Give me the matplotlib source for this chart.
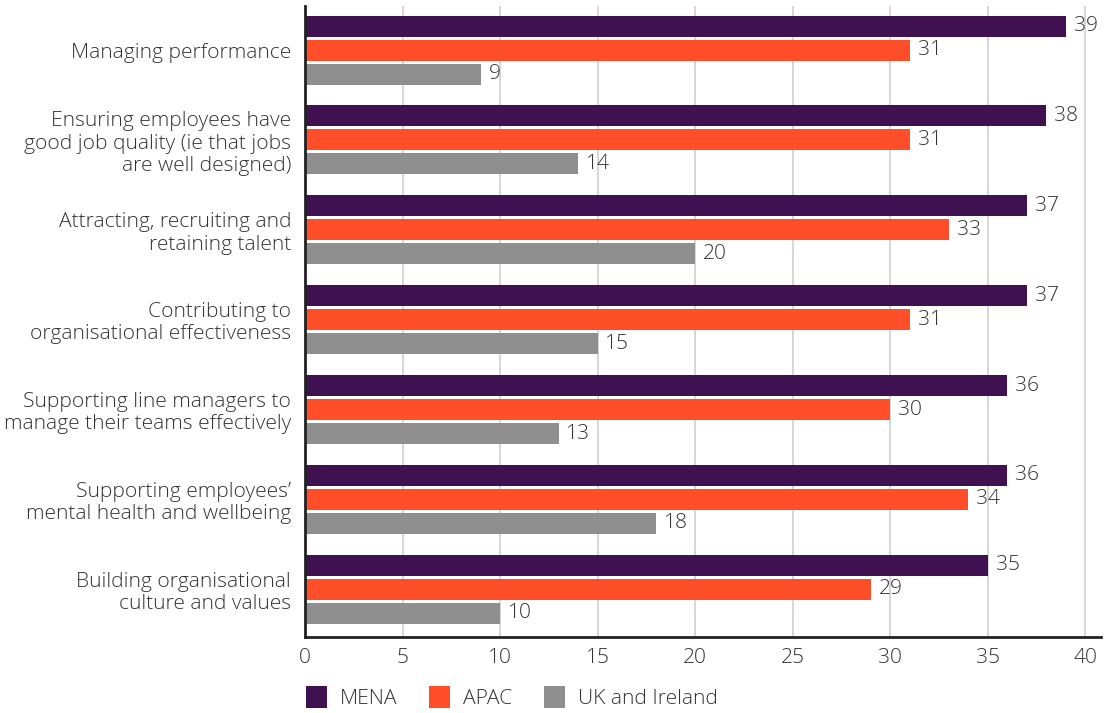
import matplotlib
matplotlib.use("Agg")
import matplotlib.pyplot as plt
import numpy as np
from matplotlib.patches import Patch

categories = [
    "Managing performance",
    "Ensuring employees have\ngood job quality (ie that jobs\nare well designed)",
    "Attracting, recruiting and\nretaining talent",
    "Contributing to\norganisational effectiveness",
    "Supporting line managers to\nmanage their teams effectively",
    "Supporting employees’\nmental health and wellbeing",
    "Building organisational\nculture and values",
]
series_names = ["MENA", "APAC", "UK and Ireland"]
mena = [39, 38, 37, 37, 36, 36, 35]
apac = [31, 31, 33, 31, 30, 34, 29]
uk = [9, 14, 20, 15, 13, 18, 10]
x_ticks = [0, 5, 10, 15, 20, 25, 30, 35, 40]

colors = ["#3F1151", "#FF4E28", "#8F8F8F"]
text_color = "#333333"
font = "Open Sans"
fsize = 15.1
weight = "light"

fig = plt.figure(figsize=(11.05, 7.13), dpi=100)
ax = fig.add_axes([0.276, 0.1066, 0.7204, 0.885])

y = np.arange(len(categories))
step = 0.267
height = 0.233
for i, (vals, col) in enumerate(zip([mena, apac, uk], colors)):
    pos = y + (i - 1) * step
    ax.barh(pos, vals, height=height, color=col, zorder=3, label=series_names[i])
    for p, v in zip(pos, vals):
        ax.text(v + 0.4, p, f"{v}", va="center", ha="left", fontsize=fsize,
                color=text_color, family=font, fontweight=weight, zorder=4)

ax.set_xlim(0, 40.8)
ax.set_ylim(len(categories) - 0.47, -0.49)
ax.set_xticks(x_ticks)
ax.set_xticklabels([str(t) for t in x_ticks], fontsize=fsize, color=text_color,
                   family=font, fontweight=weight)
ax.set_yticks(y)
ax.set_yticklabels(categories, fontsize=fsize, color=text_color, family=font,
                   fontweight=weight, linespacing=1.15)
ax.tick_params(axis="both", length=0)
ax.tick_params(axis="x", pad=8)
ax.tick_params(axis="y", pad=10)
ax.grid(axis="x", color="#D0D0D0", linewidth=1.2, zorder=0)
for s in ["top", "right"]:
    ax.spines[s].set_visible(False)
for s in ["left", "bottom"]:
    ax.spines[s].set_color("#222222")
    ax.spines[s].set_linewidth(2)
    ax.spines[s].set_zorder(5)

handles = [Patch(facecolor=c, edgecolor="none") for c in colors]
fig.legend(handles, series_names, loc="lower left", bbox_to_anchor=(0.2769, 0.006),
           ncol=3, frameon=False, borderpad=0, borderaxespad=0,
           handlelength=1.0, handleheight=1.25,
           handletextpad=0.62, columnspacing=1.5,
           prop={"family": font, "size": fsize, "weight": weight},
           labelcolor=text_color)

fig.savefig("out.png", dpi=100, facecolor="white")
